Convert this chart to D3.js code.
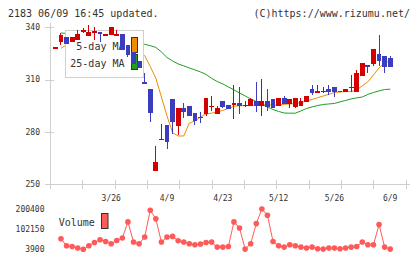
<!DOCTYPE html>
<html>
<head>
<meta charset="utf-8">
<script src="https://cdn.jsdelivr.net/npm/d3@7"></script>
<style>
body { margin: 0; background: #fff; }
text { font-family: "DejaVu Sans Mono", monospace; fill: #333; }
</style>
</head>
<body>
<div class="chart"></div>
<script>
const dateLabels = ["3/26", "4/9", "4/23", "5/12", "5/26", "6/9"];
const dateIndex = [10, 20, 30, 40, 50, 60];
const priceTicks = [250, 280, 310, 340];
const volumeTicks = [3900, 102150, 200400];

const opens = [328.5, 331.5, 334.7, 331.4, 332.8, 338.2, 335.3, 337.5, 337.6, 335.3,
    335.7, 335.8, 336.1, 329.9, 325.9, 320.7, 308.8, 304.6, 257.6, 275.7,
    283.9, 298.9, 283.5, 293.5, 295.0, 290.7, 288.7, 290.1, 294.7, 290.1,
    297.7, 295.4, 296.2, 296.6, 295.3, 295.0, 297.7, 295.0, 297.7, 298.9,
    295.0, 299.3, 296.0, 294.5, 295.0, 297.3, 304.6, 302.9, 303.3, 304.6,
    305.8, 303.5, 302.7, 305.6, 303.1, 312.3, 318.4, 318.8, 324.6, 323.6, 322.3];
const closes = [328.5, 335.7, 330.3, 334.5, 336.3, 338.4, 337.6, 337.7, 336.1, 336.3,
    340.5, 336.0, 327.1, 324.2, 319.0, 316.5, 307.3, 290.7, 262.8, 275.9,
    274.3, 285.5, 293.9, 291.6, 289.3, 286.2, 287.7, 299.6, 295.1, 293.5,
    294.5, 293.1, 296.5, 295.0, 295.5, 298.9, 295.0, 297.7, 294.5, 293.5,
    299.6, 296.0, 298.9, 299.6, 297.7, 300.8, 302.2, 303.3, 303.7, 302.7,
    303.1, 302.7, 304.6, 305.9, 313.7, 319.4, 317.5, 327.6, 320.7, 317.5, 317.5];
const highs = [328.5, 336.8, 334.7, 334.5, 338.6, 339.5, 341.4, 340.3, 337.6, 336.3,
    340.5, 338.6, 336.1, 329.9, 325.9, 320.7, 313.7, 304.6, 272.0, 284.3,
    283.9, 298.9, 293.9, 296.6, 295.0, 290.7, 291.1, 299.6, 300.8, 295.1,
    297.7, 295.4, 306.9, 306.0, 297.7, 299.6, 308.5, 310.4, 304.6, 298.9,
    299.6, 300.8, 298.9, 299.6, 299.3, 300.8, 306.9, 306.9, 306.0, 306.9,
    305.8, 303.5, 304.6, 312.7, 315.6, 319.4, 318.4, 327.6, 335.7, 323.6, 323.6];
const lows = [328.5, 329.9, 330.3, 331.4, 332.8, 336.7, 335.3, 332.8, 331.8, 335.3,
    335.7, 335.7, 327.1, 323.0, 319.0, 316.5, 307.3, 285.5, 257.6, 275.7,
    270.1, 278.6, 277.9, 288.0, 289.3, 283.9, 284.8, 289.3, 292.0, 290.1,
    293.5, 293.1, 287.4, 290.3, 294.5, 295.0, 291.6, 289.3, 292.0, 293.5,
    295.0, 296.0, 293.5, 293.5, 295.0, 297.3, 301.2, 302.7, 302.2, 301.2,
    300.2, 302.7, 302.7, 303.1, 303.1, 312.3, 313.7, 318.0, 318.0, 313.7, 317.5];
const ma5 = [null, 328.0, 330.0, 332.0, 333.0, 335.0, 335.4, 336.9, 337.2, 337.2,
    337.6, 337.3, 335.2, 332.8, 329.4, 325.5, 323.8, 317.5, 310.8, 300.0,
    289.1, 279.5, 277.6, 277.6, 285.0, 286.2, 288.5, 290.3, 290.7, 291.4,
    292.3, 293.4, 294.7, 295.0, 295.0, 295.1, 295.3, 295.4, 295.6, 295.3,
    295.5, 295.8, 296.0, 296.2, 296.8, 297.7, 298.6, 299.6, 300.6, 301.5,
    302.6, 302.9, 303.1, 303.1, 304.1, 306.4, 308.7, 312.7, 316.7, 319.6, 320.7];
const ma25 = [null, 336.8, 336.5, 336.2, 335.9, 335.6, 335.3, 335.0, 334.7, 334.3,
    333.7, 333.2, 332.6, 332.0, 331.4, 330.8, 330.3, 329.5, 328.5, 325.9,
    322.7, 320.7, 319.0, 317.9, 316.7, 315.6, 314.4, 313.0, 310.7, 308.9,
    307.5, 305.8, 304.1, 302.3, 300.6, 298.9, 297.4, 295.7, 294.3, 292.8,
    291.7, 290.8, 290.7, 290.7, 292.0, 293.4, 294.3, 295.1, 295.7, 296.0,
    296.3, 297.2, 298.0, 298.9, 299.5, 300.0, 301.5, 302.6, 303.5, 304.3, 304.5];
const volumes = [null, 55500, 21100, 17700, 9800, 3900, 21100, 37300, 50600, 42200,
    30900, 47100, 58900, 137500, 39300, 30900, 63800, 194500, 152300, 39300,
    63800, 66800, 45700, 39300, 30900, 26000, 29400, 37300, 39300, 14700,
    14700, 17700, 137500, 108000, 4900, 30900, 129200, 200400, 169900, 42200,
    21100, 14700, 26000, 21100, 14700, 9800, 14700, 6400, 4900, 9800,
    9800, 6400, 9800, 14700, 17700, 39300, 26000, 26000, 124300, 14700, 4900];

const width = 420;
const height = 259;
const upColor = "#d40000", downColor = "#3c3cbe";
const axisColor = "#cfcfcf";

const svg = d3.select(".chart")
    .append("svg")
    .attr("width", width)
    .attr("height", height);

const x = d3.scaleLinear().domain([0, opens.length - 1]).range([55.4, 390.2]);
const y = d3.scaleLinear().domain([250, 340]).range([184, 27.4]);
const grid = d3.scaleLinear().domain([0, 11]).range([50, 405.7]);
const yv = d3.scaleLinear().domain([volumeTicks[0], volumeTicks[2]]).range([249.3, 209]);

svg.append("text").attr("x", 8).attr("y", 16.5).attr("font-size", 10)
    .text("2183 06/09 16:45 updated.");
svg.append("text").attr("x", 410).attr("y", 16.5).attr("font-size", 10)
    .attr("text-anchor", "end").text("(C)https://www.rizumu.net/");

// axes
const axes = svg.append("g").attr("stroke", axisColor).attr("shape-rendering", "crispEdges");
axes.append("line").attr("x1", 50.5).attr("x2", 50.5).attr("y1", 23).attr("y2", 189);
axes.append("line").attr("x1", 45).attr("x2", 410).attr("y1", 184.5).attr("y2", 184.5);
axes.selectAll(".ytick").data(priceTicks).enter().append("line")
    .attr("x1", 45).attr("x2", 54)
    .attr("y1", d => Math.round(y(d)) + 0.5).attr("y2", d => Math.round(y(d)) + 0.5);
axes.selectAll(".xtick").data(d3.range(12)).enter().append("line")
    .attr("x1", d => Math.round(grid(d)) + 0.5).attr("x2", d => Math.round(grid(d)) + 0.5)
    .attr("y1", 180).attr("y2", 189);

svg.selectAll(".ylabel").data(priceTicks).enter().append("text")
    .attr("x", 40).attr("y", d => y(d)).attr("dy", "0.35em")
    .attr("text-anchor", "end").attr("font-size", 8).text(d => d);

svg.selectAll(".xlabel").data(dateLabels).enter().append("text")
    .attr("x", (d, i) => x(dateIndex[i])).attr("y", 201)
    .attr("text-anchor", "middle").attr("font-size", 8).text(d => d);

// moving averages
const maLine = d3.line()
    .defined(d => d != null)
    .x((d, i) => x(i))
    .y(d => y(d));
svg.append("path").attr("d", maLine(ma25)).attr("fill", "none")
    .attr("stroke", "#1ea01e").attr("stroke-width", 1);
svg.append("path").attr("d", maLine(ma5)).attr("fill", "none")
    .attr("stroke", "#f08c00").attr("stroke-width", 1);

// legend
const legend = svg.append("g");
legend.append("rect").attr("x", 65.5).attr("y", 30.5).attr("width", 78).attr("height", 47)
    .attr("fill", "#fff").attr("stroke", "#d0d0d0");
legend.append("text").attr("x", 124.5).attr("y", 49.5).attr("font-size", 10)
    .attr("text-anchor", "end").text("5-day MA");
legend.append("text").attr("x", 124.5).attr("y", 66.5).attr("font-size", 10)
    .attr("text-anchor", "end").text("25-day MA");
legend.append("rect").attr("x", 131.5).attr("y", 37.5).attr("width", 6).attr("height", 15)
    .attr("fill", "#f08c00").attr("stroke", "#333");
legend.append("rect").attr("x", 131.5).attr("y", 54.5).attr("width", 6).attr("height", 15)
    .attr("fill", "#1ea01e").attr("stroke", "#333");

// candles
const candles = svg.append("g").attr("shape-rendering", "crispEdges")
    .selectAll("g").data(opens).enter().append("g")
    .attr("fill", (d, i) => closes[i] >= d ? upColor : downColor)
    .attr("stroke", (d, i) => closes[i] >= d ? upColor : downColor);
candles.append("line")
    .attr("x1", (d, i) => x(i)).attr("x2", (d, i) => x(i))
    .attr("y1", (d, i) => y(highs[i])).attr("y2", (d, i) => y(lows[i]));
candles.append("rect")
    .attr("stroke", "none")
    .attr("x", (d, i) => x(i) - 2.4)
    .attr("width", 4.8)
    .attr("y", (d, i) => y(Math.max(d, closes[i])))
    .attr("height", (d, i) => Math.max(1.5, Math.abs(y(d) - y(closes[i]))));

// volume
const volColor = "#ff5a5a";
const volLine = d3.line()
    .defined(d => d != null)
    .x((d, i) => x(i))
    .y(d => yv(d));
svg.append("path").attr("d", volLine(volumes)).attr("fill", "none")
    .attr("stroke", volColor).attr("stroke-width", 1);
svg.selectAll(".vol").data(d3.range(volumes.length).filter(i => volumes[i] != null))
    .enter().append("circle")
    .attr("cx", i => x(i))
    .attr("cy", i => yv(volumes[i]))
    .attr("r", 2.8)
    .attr("fill", volColor);

svg.selectAll(".vlabel").data(volumeTicks).enter().append("text")
    .attr("x", 44.5).attr("y", d => yv(d)).attr("dy", "0.35em")
    .attr("text-anchor", "end").attr("font-size", 8).text(d => d);

svg.append("text").attr("x", 58.7).attr("y", 226).attr("font-size", 10).text("Volume");
svg.append("rect").attr("x", 101.5).attr("y", 213.5).attr("width", 6.5).attr("height", 15)
    .attr("fill", volColor).attr("stroke", "#333");
</script>
</body>
</html>
